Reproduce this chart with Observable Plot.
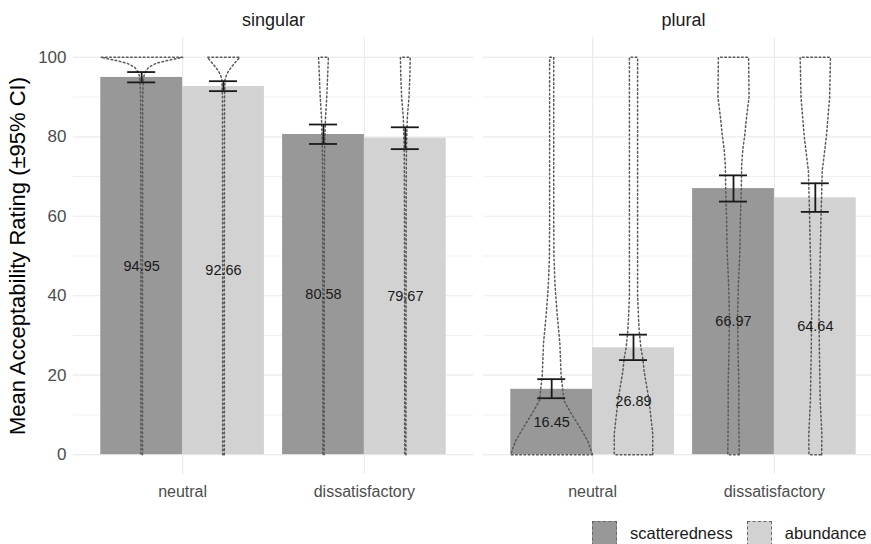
<!DOCTYPE html>
<html><head><meta charset="utf-8">
<script src="https://cdn.jsdelivr.net/npm/d3@7"></script>
<script src="https://cdn.jsdelivr.net/npm/@observablehq/plot@0.6"></script>
<style>
html,body{margin:0;padding:0;background:#fff;overflow:hidden;}
#wrap{width:871px;height:544px;position:relative;overflow:hidden;font-family:"Liberation Sans",Arial,sans-serif;}
#legend{position:absolute;left:592px;top:521px;display:flex;align-items:center;font-size:16.5px;color:#1a1a1a;white-space:nowrap;}
#legend .key{width:25px;height:25px;box-sizing:border-box;border:1.5px dashed #666;}
#legend .lab{margin-left:13px;margin-right:14px;}
</style></head><body><div id="wrap"></div>
<script>
const numbers = ["singular", "plural"];
const conditions = ["neutral", "dissatisfactory"];
const groups = ["scatteredness", "abundance"];
const groupFills = ["#989898", "#d2d2d2"];
const yTicks = [0, 20, 40, 60, 80, 100];
const yMinorTicks = [10, 30, 50, 70, 90];
const yLabel = "Mean Acceptability Rating (±95% CI)";
// order: singular-neutral, singular-dissatisfactory, plural-neutral, plural-dissatisfactory
const meanScatteredness = [94.95, 80.58, 16.45, 66.97];
const meanAbundance = [92.66, 79.67, 26.89, 64.64];
const ciLowScatteredness = [93.7, 78.2, 14.2, 63.7];
const ciHighScatteredness = [96.3, 83.1, 19.0, 70.3];
const ciLowAbundance = [91.5, 76.9, 23.8, 61.1];
const ciHighAbundance = [94.0, 82.4, 30.2, 68.3];
// violin outlines: [rating, relative half-width]
const violinSingNeutScat = [[0,0.02],[50,0.02],[90,0.025],[94,0.04],[95.5,0.06],[96.5,0.1],[97.5,0.17],[98.5,0.35],[99.2,0.62],[100,1]];
const violinSingNeutAbun = [[0,0.02],[50,0.02],[90,0.025],[94.5,0.04],[95.5,0.07],[96.5,0.12],[97.5,0.19],[99,0.31],[100,0.4]];
const violinSingDissScat = [[0,0.015],[60,0.02],[75,0.025],[80,0.035],[85,0.05],[90,0.08],[95,0.1],[100,0.12]];
const violinSingDissAbun = [[0,0.015],[60,0.02],[75,0.025],[80,0.035],[85,0.05],[90,0.09],[95,0.11],[100,0.12]];
const violinPlurNeutScat = [[0,1],[3.5,0.88],[7,0.68],[10.3,0.48],[13.6,0.3],[20,0.23],[28,0.2],[34.6,0.14],[38.5,0.11],[43,0.08],[50,0.055],[60,0.05],[100,0.05]];
const violinPlurNeutAbun = [[0,0.47],[5.3,0.47],[13.6,0.38],[21,0.26],[24,0.23],[27,0.18],[31,0.14],[35,0.12],[40,0.1],[60,0.1],[100,0.1]];
const violinPlurDissScat = [[0,0.14],[9,0.13],[18,0.13],[26,0.11],[35,0.1],[43,0.12],[51,0.155],[60,0.17],[66.5,0.19],[73,0.2],[77,0.23],[80,0.27],[85,0.32],[90,0.38],[100,0.37]];
const violinPlurDissAbun = [[0,0.155],[5,0.16],[13.6,0.12],[20,0.11],[26,0.1],[35,0.09],[50,0.12],[60,0.14],[71.5,0.17],[80,0.27],[90,0.35],[100,0.37]];

const violinsScat = [violinSingNeutScat, violinSingDissScat, violinPlurNeutScat, violinPlurDissScat];
const violinsAbun = [violinSingNeutAbun, violinSingDissAbun, violinPlurNeutAbun, violinPlurDissAbun];

const dodge = 0.225;
const rows = [];
const violinPts = [];
numbers.forEach((num, ni) => {
  conditions.forEach((cond, ci) => {
    const i = ni * 2 + ci;
    groups.forEach((g, gi) => {
      const x = ci + 1 + (gi === 0 ? -dodge : dodge);
      const mean = gi === 0 ? meanScatteredness[i] : meanAbundance[i];
      const lo = gi === 0 ? ciLowScatteredness[i] : ciLowAbundance[i];
      const hi = gi === 0 ? ciHighScatteredness[i] : ciHighAbundance[i];
      rows.push({number: num, condition: cond, group: g, x, mean, lo, hi});
      const prof = gi === 0 ? violinsScat[i] : violinsAbun[i];
      const id = num + cond + g;
      const right = prof.map(([r, w]) => ({id, number: num, x: x + w * dodge, y: r}));
      const left = prof.slice().reverse().map(([r, w]) => ({id, number: num, x: x - w * dodge, y: r}));
      violinPts.push(...right, ...left, right[0]);
    });
  });
});

const chart = Plot.plot({
  width: 871,
  height: 510,
  marginLeft: 72,
  marginRight: -13,
  marginTop: 37,
  marginBottom: 36,
  style: {fontFamily: "'Liberation Sans', Arial, sans-serif", background: "white"},
  fx: {domain: numbers, paddingInner: 0.0243, paddingOuter: 0, label: null},
  x: {domain: [0.4, 2.6], axis: null},
  y: {domain: [-5, 105], axis: null},
  color: {domain: groups, range: groupFills},
  marks: [
    Plot.gridY(yMinorTicks, {stroke: "#ebebeb", strokeOpacity: 1, strokeWidth: 0.7}),
    Plot.gridY(yTicks, {stroke: "#ebebeb", strokeOpacity: 1, strokeWidth: 1.2}),
    Plot.gridX([1, 2], {stroke: "#ebebeb", strokeOpacity: 1, strokeWidth: 1.2}),
    Plot.axisFx({anchor: "top", tickSize: 0, tickPadding: 12, fontSize: 18, color: "#1a1a1a", label: null}),
    Plot.axisY(yTicks, {anchor: "left", tickSize: 0, tickPadding: 7, fontSize: 17, color: "#4d4d4d", label: null}),
    Plot.axisY([], {anchor: "left", tickSize: 0, label: yLabel, labelAnchor: "center", labelArrow: "none", labelOffset: 64, fontSize: 22, color: "#000"}),
    Plot.axisX([1, 2], {anchor: "bottom", tickSize: 0, tickPadding: 11, fontSize: 16, color: "#4d4d4d", tickFormat: d => conditions[d - 1], label: null}),
    Plot.rectY(rows, {fx: "number", x1: d => d.x - dodge, x2: d => d.x + dodge, y: "mean", fill: "group"}),
    Plot.line(violinPts, {fx: "number", x: "x", y: "y", z: "id", stroke: "#5a5a5a", strokeWidth: 1.5, strokeDasharray: "1.6,2.6", fill: "none"}),
    Plot.ruleX(rows, {fx: "number", x: "x", y1: "lo", y2: "hi", stroke: "#1a1a1a", strokeWidth: 1.8}),
    Plot.ruleY(rows, {fx: "number", y: "lo", x1: d => d.x - 0.077, x2: d => d.x + 0.077, stroke: "#1a1a1a", strokeWidth: 1.8}),
    Plot.ruleY(rows, {fx: "number", y: "hi", x1: d => d.x - 0.077, x2: d => d.x + 0.077, stroke: "#1a1a1a", strokeWidth: 1.8}),
    Plot.text(rows, {fx: "number", x: "x", y: d => d.mean / 2, text: d => d.mean.toFixed(2), fontSize: 14.5, fill: "#1a1a1a"})
  ]
});
const wrap = document.getElementById("wrap");
wrap.appendChild(chart);

const legend = document.createElement("div");
legend.id = "legend";
groups.forEach((g, gi) => {
  const key = document.createElement("div");
  key.className = "key";
  key.style.background = groupFills[gi];
  const lab = document.createElement("span");
  lab.className = "lab";
  lab.textContent = g;
  legend.appendChild(key);
  legend.appendChild(lab);
});
wrap.appendChild(legend);
</script></body></html>
